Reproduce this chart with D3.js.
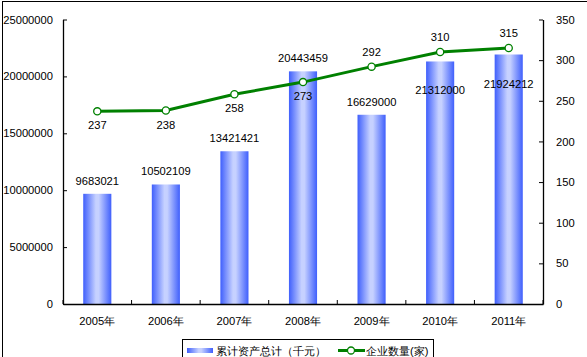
<!DOCTYPE html>
<html><head><meta charset="utf-8">
<script src="https://cdn.jsdelivr.net/npm/d3@7"></script>
<style>body{margin:0;background:#fff;}svg{display:block;font-family:"Liberation Sans",Arial,sans-serif;}</style>
</head><body>
<svg id="c" width="587" height="357"></svg>
<script>
const categories = ["2005年","2006年","2007年","2008年","2009年","2010年","2011年"];
const assets = [9683021,10502109,13421421,20443459,16629000,21312000,21924212];
const companies = [237,238,258,273,292,310,315];
const leftTicks = [0,5000000,10000000,15000000,20000000,25000000];
const rightTicks = [0,50,100,150,200,250,300,350];
const assetLabelInside = [false,false,false,false,false,true,true];
const countLabelAbove = [false,false,false,false,true,true,true];
const seriesNames = ["累计资产总计（千元）","企业数量(家)"];

const svg = d3.select("#c");
const L = 63, R = 543, T = 19.5, B = 304;
const FS = "11.2px";
const x = d3.scaleBand().domain(categories).range([L,R]).paddingInner(0.59).paddingOuter(0.295);
const band = (R-L)/categories.length;
const yL = d3.scaleLinear().domain([0,25000000]).range([B,T]);
const yR = d3.scaleLinear().domain([0,350]).range([B,T]);

// outer border
svg.append("rect").attr("x",2.5).attr("y",1.5).attr("width",600).attr("height",400)
  .attr("fill","none").attr("stroke","#000").attr("stroke-width",1);

const defs = svg.append("defs");
const g = defs.append("linearGradient").attr("id","bg").attr("x1","0").attr("x2","1").attr("y1","0").attr("y2","0");
g.append("stop").attr("offset","0%").attr("stop-color","#3f5ffc");
g.append("stop").attr("offset","45%").attr("stop-color","#c6d1ff");
g.append("stop").attr("offset","55%").attr("stop-color","#c6d1ff");
g.append("stop").attr("offset","100%").attr("stop-color","#3f5ffc");

// bars
svg.selectAll("rect.bar").data(assets).enter().append("rect").attr("class","bar")
  .attr("x",(d,i)=>x(categories[i])).attr("width",x.bandwidth())
  .attr("y",d=>yL(d)).attr("height",d=>B-yL(d)).attr("fill","url(#bg)");

// axes
const axL = svg.append("g").attr("transform",`translate(${L},0)`)
  .call(d3.axisLeft(yL).tickValues(leftTicks).tickSizeInner(-4).tickSizeOuter(0).tickPadding(10).tickFormat(d3.format("d")));
const axR = svg.append("g").attr("transform",`translate(${R},0)`)
  .call(d3.axisRight(yR).tickValues(rightTicks).tickSizeInner(-4).tickSizeOuter(0).tickPadding(13));
const axB = svg.append("g").attr("transform",`translate(0,${B})`)
  .call(d3.axisBottom(x).tickSize(0).tickPadding(13));
[axL,axR,axB].forEach(a=>{
  a.selectAll("path").attr("stroke","#000").attr("stroke-width",1.3);
  a.selectAll("line").attr("stroke","#000");
  a.selectAll("text").attr("font-size",FS).attr("fill","#000").attr("font-family","'Liberation Sans',Arial,sans-serif");
});
// boundary ticks on x axis
svg.append("g").selectAll("line").data(d3.range(categories.length+1)).enter().append("line")
  .attr("x1",i=>L+i*band).attr("x2",i=>L+i*band).attr("y1",B).attr("y2",B-4).attr("stroke","#000");

// bar labels
svg.selectAll("text.bl").data(assets).enter().append("text").attr("class","bl")
  .attr("x",(d,i)=>x(categories[i])+x.bandwidth()/2)
  .attr("y",(d,i)=>assetLabelInside[i]? yL(d)+33 : yL(d)-9)
  .attr("text-anchor","middle").attr("font-size",FS).attr("fill","#000").text(d=>d);

// line
const cx = i=>x(categories[i])+x.bandwidth()/2;
svg.append("path").datum(companies)
  .attr("d",d3.line().x((d,i)=>cx(i)).y(d=>yR(d)))
  .attr("fill","none").attr("stroke","#008000").attr("stroke-width",3);
svg.selectAll("circle.pt").data(companies).enter().append("circle").attr("class","pt")
  .attr("cx",(d,i)=>cx(i)).attr("cy",d=>yR(d)).attr("r",3.6)
  .attr("fill","#fff").attr("stroke","#008000").attr("stroke-width",1.3);
svg.selectAll("text.pl").data(companies).enter().append("text").attr("class","pl")
  .attr("x",(d,i)=>cx(i))
  .attr("y",(d,i)=>countLabelAbove[i]? yR(d)-11 : yR(d)+18)
  .attr("text-anchor","middle").attr("font-size",FS).attr("fill","#000").text(d=>d);

// legend
const lg = svg.append("g");
lg.append("rect").attr("x",182.5).attr("y",339.5).attr("width",251).attr("height",30)
  .attr("fill","#fff").attr("stroke","#000").attr("stroke-width",1);
lg.append("rect").attr("x",187).attr("y",348).attr("width",26).attr("height",5).attr("fill","url(#bg)");
lg.append("text").attr("x",216).attr("y",355).attr("font-size","11px").attr("fill","#000").text(seriesNames[0]);
lg.append("line").attr("x1",338).attr("x2",365).attr("y1",350.5).attr("y2",350.5).attr("stroke","#008000").attr("stroke-width",3);
lg.append("circle").attr("cx",351).attr("cy",350.5).attr("r",3.5).attr("fill","#fff").attr("stroke","#008000").attr("stroke-width",1.3);
lg.append("text").attr("x",366).attr("y",355).attr("font-size","11px").attr("fill","#000").text(seriesNames[1]);
</script>
</body></html>
